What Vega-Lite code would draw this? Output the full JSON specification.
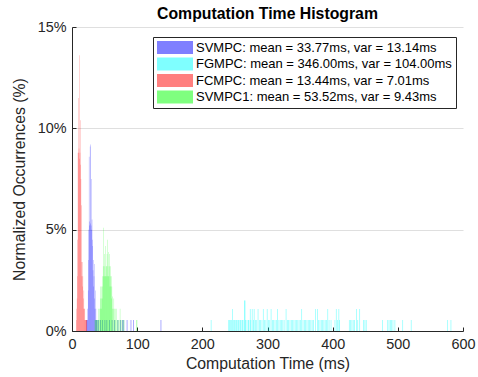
{
  "$schema": "https://vega.github.io/schema/vega-lite/v6.json",
  "width": 391,
  "height": 304,
  "autosize": "none",
  "padding": {"left": 72, "top": 27, "right": 15, "bottom": 46},
  "background": "white",
  "title": {"text": "Computation Time Histogram", "fontSize": 15.8, "fontWeight": "bold", "font": "Liberation Sans", "color": "black", "offset": -4, "anchor": "middle"},
  "config": {"view": {"stroke": null}, "font": "Liberation Sans"},
  "data": {"values": [
    {"s":"SVMPC","a":22,"b":23,"p":0.54},
    {"s":"SVMPC","a":23,"b":24,"p":0.54},
    {"s":"SVMPC","a":24,"b":24.5,"p":1.1},
    {"s":"SVMPC","a":24.5,"b":25,"p":2.0},
    {"s":"SVMPC","a":25,"b":25.5,"p":3.5},
    {"s":"SVMPC","a":25.5,"b":26,"p":5.0},
    {"s":"SVMPC","a":26,"b":26.5,"p":8.6},
    {"s":"SVMPC","a":26.5,"b":27,"p":5.2},
    {"s":"SVMPC","a":27,"b":27.5,"p":5.4},
    {"s":"SVMPC","a":27.5,"b":28,"p":9.1},
    {"s":"SVMPC","a":28,"b":28.5,"p":5.3},
    {"s":"SVMPC","a":28.5,"b":29,"p":9.2},
    {"s":"SVMPC","a":29,"b":29.5,"p":5.2},
    {"s":"SVMPC","a":29.5,"b":30,"p":7.5},
    {"s":"SVMPC","a":30,"b":30.5,"p":5.0},
    {"s":"SVMPC","a":30.5,"b":31,"p":5.5},
    {"s":"SVMPC","a":31,"b":31.5,"p":4.2},
    {"s":"SVMPC","a":31.5,"b":32,"p":4.5},
    {"s":"SVMPC","a":32,"b":32.5,"p":3.0},
    {"s":"SVMPC","a":32.5,"b":33,"p":3.5},
    {"s":"SVMPC","a":33,"b":33.5,"p":2.2},
    {"s":"SVMPC","a":33.5,"b":34,"p":2.7},
    {"s":"SVMPC","a":34,"b":34.5,"p":1.6},
    {"s":"SVMPC","a":34.5,"b":35,"p":3.3},
    {"s":"SVMPC","a":35,"b":35.5,"p":1.1},
    {"s":"SVMPC","a":35.5,"b":36,"p":2.0},
    {"s":"SVMPC","a":36,"b":36.5,"p":0.54},
    {"s":"SVMPC","a":36.5,"b":37,"p":1.1},
    {"s":"SVMPC","a":37,"b":38,"p":0.54},
    {"s":"SVMPC","a":38,"b":39,"p":0.54},
    {"s":"SVMPC","a":40,"b":41,"p":0.54},
    {"s":"SVMPC","a":43,"b":44,"p":0.54},
    {"s":"SVMPC","a":46,"b":47,"p":0.54},
    {"s":"SVMPC","a":50,"b":51,"p":0.54},
    {"s":"SVMPC","a":53,"b":54,"p":0.54},
    {"s":"SVMPC","a":57,"b":58,"p":0.54},
    {"s":"SVMPC","a":61,"b":62,"p":0.54},
    {"s":"SVMPC","a":65,"b":66,"p":0.54},
    {"s":"SVMPC","a":70,"b":71,"p":0.54},
    {"s":"SVMPC","a":74,"b":75,"p":0.54},
    {"s":"SVMPC","a":77,"b":78,"p":0.54},
    {"s":"SVMPC","a":79,"b":80,"p":0.54},
    {"s":"SVMPC","a":84,"b":85,"p":0.54},
    {"s":"SVMPC","a":90,"b":91,"p":0.54},
    {"s":"SVMPC","a":94,"b":95,"p":0.54},
    {"s":"SVMPC","a":136,"b":137,"p":0.54},
    {"s":"FGMPC","a":213,"b":214,"p":0.54},
    {"s":"FGMPC","a":240,"b":241,"p":0.54},
    {"s":"FGMPC","a":241,"b":242,"p":0.54},
    {"s":"FGMPC","a":243,"b":244,"p":0.54},
    {"s":"FGMPC","a":244,"b":245,"p":0.54},
    {"s":"FGMPC","a":246,"b":247,"p":1.08},
    {"s":"FGMPC","a":247,"b":248,"p":0.54},
    {"s":"FGMPC","a":249,"b":250,"p":0.54},
    {"s":"FGMPC","a":250,"b":251,"p":0.54},
    {"s":"FGMPC","a":252,"b":253,"p":0.54},
    {"s":"FGMPC","a":253,"b":254,"p":0.54},
    {"s":"FGMPC","a":255,"b":256,"p":0.54},
    {"s":"FGMPC","a":256,"b":257,"p":0.54},
    {"s":"FGMPC","a":258,"b":259,"p":0.54},
    {"s":"FGMPC","a":259,"b":260,"p":0.54},
    {"s":"FGMPC","a":261,"b":262,"p":0.54},
    {"s":"FGMPC","a":262,"b":263,"p":0.54},
    {"s":"FGMPC","a":264,"b":265,"p":1.5},
    {"s":"FGMPC","a":265,"b":266,"p":1.5},
    {"s":"FGMPC","a":266,"b":267,"p":0.54},
    {"s":"FGMPC","a":268,"b":269,"p":0.54},
    {"s":"FGMPC","a":270,"b":271,"p":0.54},
    {"s":"FGMPC","a":271,"b":272,"p":0.54},
    {"s":"FGMPC","a":273,"b":274,"p":1.08},
    {"s":"FGMPC","a":274,"b":275,"p":0.54},
    {"s":"FGMPC","a":276,"b":277,"p":1.08},
    {"s":"FGMPC","a":278,"b":279,"p":0.54},
    {"s":"FGMPC","a":279,"b":280,"p":1.08},
    {"s":"FGMPC","a":281,"b":282,"p":0.54},
    {"s":"FGMPC","a":283,"b":284,"p":0.54},
    {"s":"FGMPC","a":285,"b":286,"p":1.08},
    {"s":"FGMPC","a":287,"b":288,"p":0.54},
    {"s":"FGMPC","a":289,"b":290,"p":0.54},
    {"s":"FGMPC","a":291,"b":292,"p":0.54},
    {"s":"FGMPC","a":293,"b":294,"p":1.08},
    {"s":"FGMPC","a":295,"b":296,"p":0.54},
    {"s":"FGMPC","a":297,"b":298,"p":0.54},
    {"s":"FGMPC","a":299,"b":300,"p":1.08},
    {"s":"FGMPC","a":301,"b":302,"p":0.54},
    {"s":"FGMPC","a":303,"b":304,"p":0.54},
    {"s":"FGMPC","a":305,"b":306,"p":1.08},
    {"s":"FGMPC","a":307,"b":308,"p":0.54},
    {"s":"FGMPC","a":309,"b":310,"p":0.54},
    {"s":"FGMPC","a":311,"b":312,"p":0.54},
    {"s":"FGMPC","a":313,"b":314,"p":0.54},
    {"s":"FGMPC","a":315,"b":316,"p":1.08},
    {"s":"FGMPC","a":317,"b":318,"p":0.54},
    {"s":"FGMPC","a":319,"b":320,"p":0.54},
    {"s":"FGMPC","a":321,"b":322,"p":0.54},
    {"s":"FGMPC","a":323,"b":324,"p":0.54},
    {"s":"FGMPC","a":325,"b":326,"p":0.54},
    {"s":"FGMPC","a":328,"b":329,"p":1.08},
    {"s":"FGMPC","a":330,"b":331,"p":0.54},
    {"s":"FGMPC","a":332,"b":333,"p":0.54},
    {"s":"FGMPC","a":334,"b":335,"p":0.54},
    {"s":"FGMPC","a":336,"b":337,"p":0.54},
    {"s":"FGMPC","a":338,"b":339,"p":0.54},
    {"s":"FGMPC","a":340,"b":341,"p":0.54},
    {"s":"FGMPC","a":342,"b":343,"p":0.54},
    {"s":"FGMPC","a":344,"b":345,"p":0.54},
    {"s":"FGMPC","a":346,"b":347,"p":0.54},
    {"s":"FGMPC","a":348,"b":349,"p":0.54},
    {"s":"FGMPC","a":350,"b":351,"p":0.54},
    {"s":"FGMPC","a":352,"b":353,"p":1.08},
    {"s":"FGMPC","a":354,"b":355,"p":0.54},
    {"s":"FGMPC","a":356,"b":357,"p":0.54},
    {"s":"FGMPC","a":358,"b":359,"p":0.54},
    {"s":"FGMPC","a":360,"b":361,"p":0.54},
    {"s":"FGMPC","a":362,"b":363,"p":0.54},
    {"s":"FGMPC","a":364,"b":365,"p":0.54},
    {"s":"FGMPC","a":366,"b":367,"p":0.54},
    {"s":"FGMPC","a":368,"b":369,"p":0.54},
    {"s":"FGMPC","a":370,"b":371,"p":0.54},
    {"s":"FGMPC","a":373,"b":374,"p":1.08},
    {"s":"FGMPC","a":376,"b":377,"p":1.08},
    {"s":"FGMPC","a":378,"b":379,"p":0.54},
    {"s":"FGMPC","a":380,"b":381,"p":0.54},
    {"s":"FGMPC","a":382,"b":383,"p":0.54},
    {"s":"FGMPC","a":384,"b":385,"p":0.54},
    {"s":"FGMPC","a":386,"b":387,"p":0.54},
    {"s":"FGMPC","a":388,"b":389,"p":0.54},
    {"s":"FGMPC","a":390,"b":391,"p":0.54},
    {"s":"FGMPC","a":392,"b":393,"p":1.08},
    {"s":"FGMPC","a":394,"b":395,"p":0.54},
    {"s":"FGMPC","a":397,"b":398,"p":0.54},
    {"s":"FGMPC","a":403,"b":404,"p":0.54},
    {"s":"FGMPC","a":405,"b":406,"p":1.08},
    {"s":"FGMPC","a":407,"b":408,"p":0.54},
    {"s":"FGMPC","a":409,"b":410,"p":1.08},
    {"s":"FGMPC","a":410,"b":411,"p":0.54},
    {"s":"FGMPC","a":425,"b":426,"p":0.54},
    {"s":"FGMPC","a":427,"b":428,"p":0.54},
    {"s":"FGMPC","a":429,"b":430,"p":0.54},
    {"s":"FGMPC","a":431,"b":432,"p":0.54},
    {"s":"FGMPC","a":433,"b":434,"p":0.54},
    {"s":"FGMPC","a":436,"b":437,"p":1.08},
    {"s":"FGMPC","a":438,"b":439,"p":0.54},
    {"s":"FGMPC","a":441,"b":442,"p":1.08},
    {"s":"FGMPC","a":447,"b":448,"p":0.54},
    {"s":"FGMPC","a":449,"b":450,"p":0.54},
    {"s":"FGMPC","a":451,"b":452,"p":0.54},
    {"s":"FGMPC","a":476,"b":477,"p":0.54},
    {"s":"FGMPC","a":484,"b":485,"p":0.54},
    {"s":"FGMPC","a":486,"b":487,"p":0.54},
    {"s":"FGMPC","a":488,"b":489,"p":0.54},
    {"s":"FGMPC","a":490,"b":491,"p":0.54},
    {"s":"FGMPC","a":492,"b":493,"p":0.54},
    {"s":"FGMPC","a":495,"b":496,"p":0.54},
    {"s":"FGMPC","a":507,"b":508,"p":0.54},
    {"s":"FGMPC","a":520,"b":521,"p":0.54},
    {"s":"FGMPC","a":576,"b":577,"p":0.54},
    {"s":"FGMPC","a":581,"b":582,"p":0.54},
    {"s":"FCMPC","a":6.5,"b":7,"p":0.54},
    {"s":"FCMPC","a":7,"b":7.5,"p":1.1},
    {"s":"FCMPC","a":7.5,"b":8,"p":1.6},
    {"s":"FCMPC","a":8,"b":8.5,"p":2.7},
    {"s":"FCMPC","a":8.5,"b":9,"p":4.5},
    {"s":"FCMPC","a":9,"b":9.5,"p":8.8},
    {"s":"FCMPC","a":9.5,"b":10,"p":11.5},
    {"s":"FCMPC","a":10,"b":10.5,"p":8.8},
    {"s":"FCMPC","a":10.5,"b":11,"p":9.0},
    {"s":"FCMPC","a":11,"b":11.5,"p":8.5},
    {"s":"FCMPC","a":11.5,"b":12,"p":13.6},
    {"s":"FCMPC","a":12,"b":12.5,"p":8.8},
    {"s":"FCMPC","a":12.5,"b":13,"p":8.2},
    {"s":"FCMPC","a":13,"b":13.5,"p":10.4},
    {"s":"FCMPC","a":13.5,"b":14,"p":7.5},
    {"s":"FCMPC","a":14,"b":14.5,"p":6.2},
    {"s":"FCMPC","a":14.5,"b":15,"p":3.4},
    {"s":"FCMPC","a":15,"b":15.5,"p":2.7},
    {"s":"FCMPC","a":15.5,"b":16,"p":3.4},
    {"s":"FCMPC","a":16,"b":16.5,"p":2.2},
    {"s":"FCMPC","a":16.5,"b":17,"p":2.7},
    {"s":"FCMPC","a":17,"b":17.5,"p":1.6},
    {"s":"FCMPC","a":17.5,"b":18,"p":1.1},
    {"s":"FCMPC","a":18,"b":18.5,"p":2.0},
    {"s":"FCMPC","a":18.5,"b":19,"p":0.54},
    {"s":"FCMPC","a":19,"b":20,"p":1.1},
    {"s":"FCMPC","a":20,"b":21,"p":0.54},
    {"s":"FCMPC","a":21,"b":22,"p":0.54},
    {"s":"FCMPC","a":22,"b":23,"p":0.54},
    {"s":"SVMPC1","a":35,"b":36,"p":0.54},
    {"s":"SVMPC1","a":36.5,"b":37.5,"p":0.54},
    {"s":"SVMPC1","a":38,"b":39,"p":0.54},
    {"s":"SVMPC1","a":39.5,"b":40,"p":0.54},
    {"s":"SVMPC1","a":40,"b":40.5,"p":1.1},
    {"s":"SVMPC1","a":41,"b":41.5,"p":0.54},
    {"s":"SVMPC1","a":42,"b":42.5,"p":1.1},
    {"s":"SVMPC1","a":42.5,"b":43,"p":0.54},
    {"s":"SVMPC1","a":43,"b":43.5,"p":1.6},
    {"s":"SVMPC1","a":43.5,"b":44,"p":1.1},
    {"s":"SVMPC1","a":44,"b":44.5,"p":2.2},
    {"s":"SVMPC1","a":44.5,"b":45,"p":1.1},
    {"s":"SVMPC1","a":45,"b":45.5,"p":1.6},
    {"s":"SVMPC1","a":45.5,"b":46,"p":2.2},
    {"s":"SVMPC1","a":46,"b":46.5,"p":1.6},
    {"s":"SVMPC1","a":46.5,"b":47,"p":2.7},
    {"s":"SVMPC1","a":47,"b":47.5,"p":2.2},
    {"s":"SVMPC1","a":47.5,"b":48,"p":3.2},
    {"s":"SVMPC1","a":48,"b":48.5,"p":5.1},
    {"s":"SVMPC1","a":48.5,"b":49,"p":2.7},
    {"s":"SVMPC1","a":49,"b":49.5,"p":3.2},
    {"s":"SVMPC1","a":49.5,"b":50,"p":2.7},
    {"s":"SVMPC1","a":50,"b":50.5,"p":3.8},
    {"s":"SVMPC1","a":50.5,"b":51,"p":2.7},
    {"s":"SVMPC1","a":51,"b":51.5,"p":2.7},
    {"s":"SVMPC1","a":51.5,"b":52,"p":4.2},
    {"s":"SVMPC1","a":52,"b":52.5,"p":3.2},
    {"s":"SVMPC1","a":52.5,"b":53,"p":2.7},
    {"s":"SVMPC1","a":53,"b":53.5,"p":3.2},
    {"s":"SVMPC1","a":53.5,"b":54,"p":3.8},
    {"s":"SVMPC1","a":54,"b":54.5,"p":2.7},
    {"s":"SVMPC1","a":54.5,"b":55,"p":4.5},
    {"s":"SVMPC1","a":55,"b":55.5,"p":3.2},
    {"s":"SVMPC1","a":55.5,"b":56,"p":2.7},
    {"s":"SVMPC1","a":56,"b":56.5,"p":3.9},
    {"s":"SVMPC1","a":56.5,"b":57,"p":2.7},
    {"s":"SVMPC1","a":57,"b":57.5,"p":3.2},
    {"s":"SVMPC1","a":57.5,"b":58,"p":3.8},
    {"s":"SVMPC1","a":58,"b":58.5,"p":2.2},
    {"s":"SVMPC1","a":58.5,"b":59,"p":2.7},
    {"s":"SVMPC1","a":59,"b":59.5,"p":3.2},
    {"s":"SVMPC1","a":59.5,"b":60,"p":2.2},
    {"s":"SVMPC1","a":60,"b":60.5,"p":2.7},
    {"s":"SVMPC1","a":60.5,"b":61,"p":1.6},
    {"s":"SVMPC1","a":61,"b":61.5,"p":2.2},
    {"s":"SVMPC1","a":61.5,"b":62,"p":1.1},
    {"s":"SVMPC1","a":62,"b":62.5,"p":1.7},
    {"s":"SVMPC1","a":63,"b":63.5,"p":1.1},
    {"s":"SVMPC1","a":64,"b":64.5,"p":1.6},
    {"s":"SVMPC1","a":64.5,"b":65,"p":0.54},
    {"s":"SVMPC1","a":65,"b":65.5,"p":1.1},
    {"s":"SVMPC1","a":66,"b":66.5,"p":0.54},
    {"s":"SVMPC1","a":67,"b":67.5,"p":1.1},
    {"s":"SVMPC1","a":68,"b":68.5,"p":1.1},
    {"s":"SVMPC1","a":69,"b":69.5,"p":0.54},
    {"s":"SVMPC1","a":70,"b":70.5,"p":0.54},
    {"s":"SVMPC1","a":71,"b":71.5,"p":0.54},
    {"s":"SVMPC1","a":72,"b":72.5,"p":0.54},
    {"s":"SVMPC1","a":73.5,"b":74,"p":1.1},
    {"s":"SVMPC1","a":74.5,"b":75,"p":0.54},
    {"s":"SVMPC1","a":76,"b":76.5,"p":0.54},
    {"s":"SVMPC1","a":77.5,"b":78,"p":0.54},
    {"s":"SVMPC1","a":79,"b":80,"p":0.54},
    {"s":"SVMPC1","a":99,"b":100,"p":0.54}
  ]},
  "mark": {"type": "rect", "opacity": 0.5, "strokeWidth": 0},
  "encoding": {
    "x": {"field": "a", "type": "quantitative",
      "scale": {"domain": [0, 600], "nice": false, "zero": false},
      "axis": {"title": "Computation Time (ms)", "values": [0, 100, 200, 300, 400, 500, 600],
        "grid": false, "tickSize": -4, "tickColor": "#262626", "domainColor": "#262626",
        "labelFontSize": 14.4, "labelColor": "#262626", "labelPadding": 10, "labelFlush": false,
        "titleFontSize": 15.8, "titleFontWeight": "normal", "titleColor": "#262626", "titlePadding": 6}},
    "x2": {"field": "b"},
    "y": {"field": "p", "type": "quantitative", "stack": null,
      "scale": {"domain": [0, 15], "nice": false},
      "axis": {"title": "Normalized Occurrences (%)", "values": [0, 5, 10, 15], "labelExpr": "datum.value + '%'",
        "grid": true, "gridColor": "#DFDFDF", "tickSize": -4, "tickColor": "#262626", "domainColor": "#262626",
        "labelFontSize": 14.4, "labelColor": "#262626", "labelPadding": 10,
        "titleFontSize": 15.8, "titleFontWeight": "normal", "titleColor": "#262626", "titlePadding": 10}},
    "y2": {"datum": 0},
    "color": {"field": "s", "type": "nominal",
      "scale": {"domain": ["SVMPC", "FGMPC", "FCMPC", "SVMPC1"], "range": ["#0000FF", "#00FFFF", "#FF0000", "#00FF00"]},
      "legend": {"orient": "none", "legendX": 81, "legendY": 10, "title": null,
        "symbolType": "M-1,-1H4.54V1H-1Z", "symbolSize": 169, "symbolOpacity": 0.5, "symbolStrokeWidth": 0,
        "labelFontSize": 13, "labelColor": "black", "labelOffset": 26, "labelLimit": 400, "rowPadding": 2.5,
        "padding": 4, "strokeColor": "#262626", "fillColor": "white",
        "labelExpr": "{'SVMPC':'SVMPC: mean = 33.77ms, var = 13.14ms','FGMPC':'FGMPC: mean = 346.00ms, var = 104.00ms','FCMPC':'FCMPC: mean = 13.44ms, var = 7.01ms','SVMPC1':'SVMPC1: mean = 53.52ms, var = 9.43ms'}[datum.label]"}}
  }
}
